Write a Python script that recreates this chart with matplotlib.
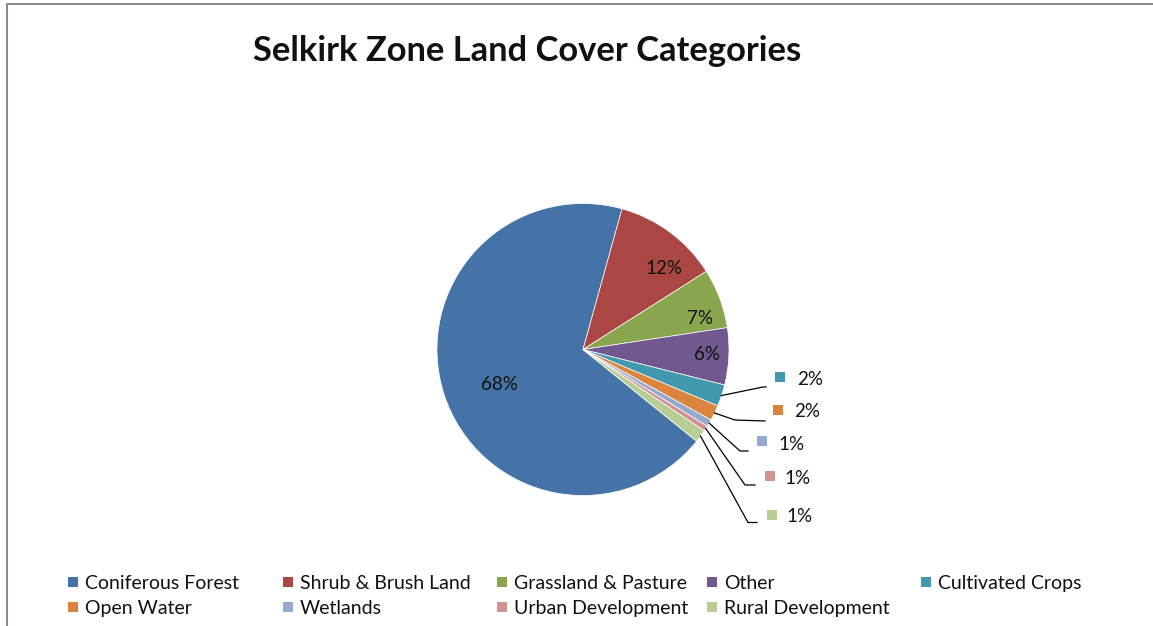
import numpy as np
import matplotlib.pyplot as plt
from matplotlib.patches import Rectangle
from matplotlib.lines import Line2D

# land cover shares (%), in slice order
categories = ['Coniferous Forest', 'Shrub & Brush Land', 'Grassland & Pasture', 'Other',
              'Cultivated Crops', 'Open Water', 'Wetlands', 'Urban Development',
              'Rural Development']
shares = [68.5, 11.7, 6.6, 6.3, 2.4, 1.7, 0.8, 0.6, 1.4]
colors = ['#4572A7', '#AA4643', '#89A54E', '#71588F', '#4198AF',
          '#DB843D', '#93A9CF', '#D19392', '#B9CD96']

W, H = 1153, 626
CX, CY, R = 583, 349.5, 146

plt.rcParams['font.family'] = ['Lato', 'DejaVu Sans']
fig = plt.figure(figsize=(W / 100, H / 100), dpi=100)
ax = fig.add_axes([0, 0, 1, 1])


def px(x, y):
    # pixel position -> pie data coords
    return (x - CX) / R, (CY - y) / R


wedges, _ = ax.pie(shares, colors=colors, startangle=-38.9, counterclock=False,
                   wedgeprops=dict(edgecolor='white', linewidth=0.5))
ax.set_xlim(-CX / R, (W - CX) / R)
ax.set_ylim(-(H - CY) / R, CY / R)
ax.set_aspect('equal')
ax.axis('off')

# labels inside the big slices
inner_r = [0.62, 0.79, 0.83, 0.85]
inner_nudge = [-4, 8, 5, -1]
for i in range(4):
    w = wedges[i]
    a = np.deg2rad((w.theta1 + w.theta2) / 2 - inner_nudge[i])
    ax.text(inner_r[i] * np.cos(a), inner_r[i] * np.sin(a), f'{shares[i]:.0f}%',
            ha='center', va='center_baseline', fontsize=13.5, color='#111111')

# small slices: labels outside with leader lines and key squares
text_pos = [(810, 378), (807, 410), (791, 443), (798, 477), (800, 515)]
key_pos = [(780, 377), (778, 410), (762, 441), (770, 476), (772, 515)]
elbow = [(763, 387), (735, 420), (740, 451), (745, 485), (748, 522.5)]
ends = [(766, 387), (765, 421), (748, 451), (755, 485), (757, 522.5)]
sq = 10.5 / R
for k, i in enumerate(range(4, 9)):
    w = wedges[i]
    a = np.deg2rad((w.theta1 + w.theta2) / 2)
    ex, ey = np.cos(a), np.sin(a)
    bx, by = px(*elbow[k])
    fx, fy = px(*ends[k])
    ax.add_line(Line2D([ex, bx, fx], [ey, by, fy], color='black', lw=0.9))
    kx, ky = px(*key_pos[k])
    ax.add_patch(Rectangle((kx - sq / 2, ky - sq / 2), sq, sq, color=colors[i], lw=0))
    tx, ty = px(*text_pos[k])
    ax.text(tx, ty, f'{shares[i]:.0f}%', ha='center', va='center_baseline',
            fontsize=13.5, color='#111111')

# title
fig.text(527 / W, 1 - 51 / H, 'Selkirk Zone Land Cover Categories', ha='center',
         va='center', fontsize=24.8, fontweight='bold', color='#111111')

# legend, two rows of five
col_x = [73, 288, 502, 712, 926]
row_y = [582, 607]
for i, name in enumerate(categories):
    x, y = col_x[i % 5], row_y[i // 5]
    kx, ky = px(x, y)
    ax.add_patch(Rectangle((kx - sq / 2, ky - sq / 2), sq, sq, color=colors[i], lw=0))
    tx, ty = px(x + 12, y)
    ax.text(tx, ty, name, ha='left', va='center_baseline', fontsize=14,
            color='#111111')

# chart frame
fig.add_artist(Line2D([7 / W, 7 / W, 1], [0, 1 - 4 / H, 1 - 4 / H],
                      transform=fig.transFigure, color='#8c8c8c', lw=1.5))

fig.savefig('out.png', dpi=100)
